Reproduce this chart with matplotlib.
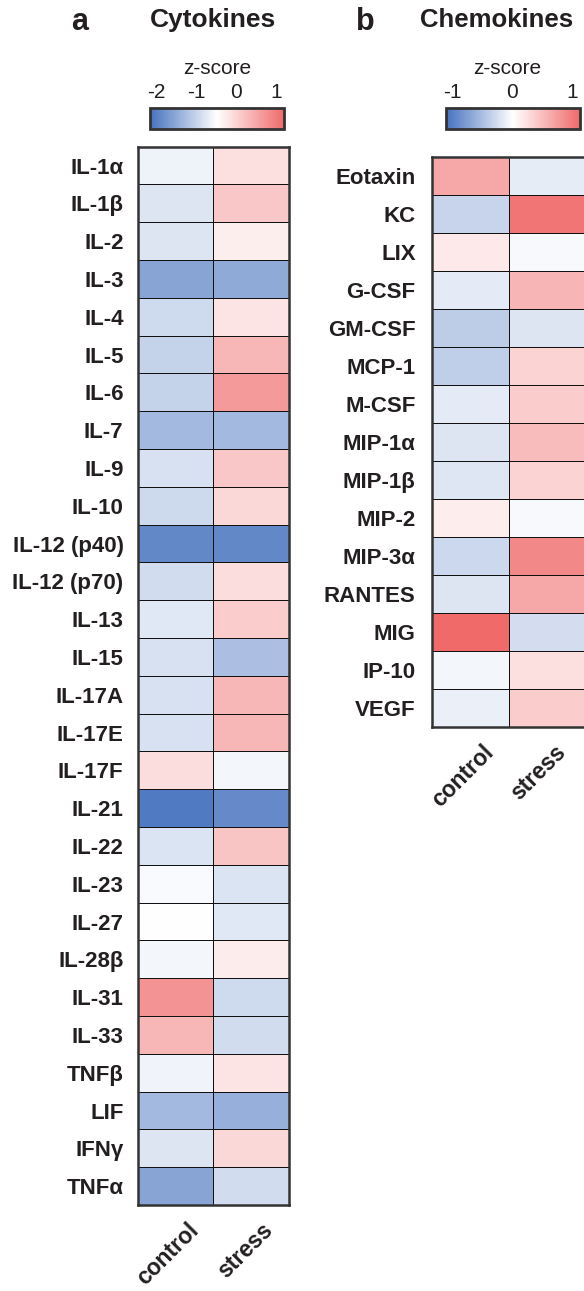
import matplotlib
matplotlib.use("Agg")
import matplotlib.pyplot as plt
import numpy as np
from matplotlib.colors import LinearSegmentedColormap, Normalize
from matplotlib.colorbar import ColorbarBase

plt.rcParams["font.family"] = ["Liberation Sans", "DejaVu Sans"]

W, H = 584, 1291
TEXT = "#231f20"

groups = ["control", "stress"]

cytokines = ["IL-1α", "IL-1β", "IL-2", "IL-3", "IL-4", "IL-5", "IL-6", "IL-7",
             "IL-9", "IL-10", "IL-12 (p40)", "IL-12 (p70)", "IL-13", "IL-15",
             "IL-17A", "IL-17E", "IL-17F", "IL-21", "IL-22", "IL-23", "IL-27",
             "IL-28β", "IL-31", "IL-33", "TNFβ", "LIF", "IFNγ", "TNFα"]
cyto_control = [-0.63, -0.78, -0.78, -1.56, -0.91, -1.00, -1.00, -1.31,
                -0.84, -0.93, -1.88, -0.89, -0.74, -0.84, -0.84, -0.84,
                -0.09, -2.05, -0.79, -0.54, -0.47, -0.58, 0.73, 0.33,
                -0.61, -1.31, -0.78, -1.56]
cyto_stress = [-0.12, 0.15, -0.29, -1.48, -0.17, 0.33, 0.66, -1.31,
               0.15, -0.04, -1.88, -0.09, 0.10, -1.23, 0.33, 0.33,
               -0.58, -1.85, 0.19, -0.79, -0.74, -0.26, -0.91, -0.89,
               -0.17, -1.41, -0.04, -0.89]
cyto_ticks = [-2, -1, 0, 1]

chemokines = ["Eotaxin", "KC", "LIX", "G-CSF", "GM-CSF", "MCP-1", "M-CSF",
              "MIP-1α", "MIP-1β", "MIP-2", "MIP-3α", "RANTES", "MIG",
              "IP-10", "VEGF"]
chemo_control = [0.66, -0.32, 0.18, -0.15, -0.38, -0.36, -0.15, -0.19,
                 -0.18, 0.15, -0.29, -0.19, 1.13, -0.06, -0.10]
chemo_stress = [-0.14, 1.05, -0.03, 0.57, -0.19, 0.34, 0.39, 0.52,
                0.34, -0.03, 0.90, 0.66, -0.25, 0.25, 0.39]
chemo_ticks = [-1, 0, 1]

cmap = LinearSegmentedColormap.from_list(
    "blue_white_red", ["#4672BE", "#FFFFFF", "#F06A6A"])

fig = plt.figure(figsize=(W / 100, H / 100), dpi=100)


def px_axes(x0, y0, x1, y1):
    """Add axes from pixel box (origin top-left)."""
    return fig.add_axes([x0 / W, 1 - y1 / H, (x1 - x0) / W, (y1 - y0) / H])


def heatmap(box, labels, control, stress, norm, label_pad, col_offsets, label_drop):
    ax = px_axes(*box)
    data = np.column_stack([control, stress])
    n = len(labels)
    ax.pcolormesh(np.arange(3), np.arange(n + 1), data, cmap=cmap, norm=norm,
                  edgecolors="#111111", linewidth=0.65)
    ax.set_xlim(0, 2)
    ax.set_ylim(n, 0)
    ax.set_xticks([])
    ax.set_yticks(np.arange(n) + 0.5)
    ax.set_yticklabels(labels, fontsize=16, fontweight="bold", color=TEXT)
    ax.tick_params(axis="y", length=0, pad=label_pad)
    for sp in ax.spines.values():
        sp.set_linewidth(1.8)
        sp.set_color("#333333")
    # rotated group names under each column
    x0, y0, x1, y1 = box
    colw = (x1 - x0) / 2
    for i, g in enumerate(groups):
        cx = x0 + colw * (i + 0.5) + col_offsets[i]
        cy = y1 + label_drop
        fig.text(cx / W, 1 - cy / H, g, rotation=45, rotation_mode="anchor",
                 ha="right", va="center", fontsize=16.5, fontweight="bold",
                 color=TEXT)
    return ax


def scale_bar(box, norm, ticks, label_x):
    cax = px_axes(*box)
    cb = ColorbarBase(cax, cmap=cmap, norm=norm, orientation="horizontal")
    cb.set_ticks([])
    cb.outline.set_linewidth(2.0)
    cb.outline.set_edgecolor("#333333")
    x0, y0, x1, y1 = box
    span = norm.vmax - norm.vmin
    for t in ticks:
        tx = x0 + (t - norm.vmin) / span * (x1 - x0)
        fig.text(tx / W, 1 - 93 / H, str(t), ha="center",
                 va="center", fontsize=15, color=TEXT)
    fig.text(label_x / W, 1 - 68 / H, "z-score", ha="center", va="center",
             fontsize=15, color=TEXT)


cyto_norm = Normalize(vmin=-2.15, vmax=1.2)
chemo_norm = Normalize(vmin=-1.1, vmax=1.13)

heatmap((137.5, 146.7, 289, 1205), cytokines, cyto_control, cyto_stress,
        cyto_norm, 10, [20, 18], 22)
heatmap((432.3, 157, 585, 727), chemokines, chemo_control, chemo_stress,
        chemo_norm, 12, [20, 16], 22)

scale_bar((150, 108, 284, 129), cyto_norm, cyto_ticks, 217)
scale_bar((446, 108, 580, 129), chemo_norm, chemo_ticks, 507)

fig.text(213 / W, 1 - 20 / H, "Cytokines", ha="center", va="center",
         fontsize=19, fontweight="bold", color=TEXT)
fig.text(80 / W, 1 - 22 / H, "a", ha="center", va="center",
         fontsize=22, fontweight="bold", color=TEXT)
fig.text(497 / W, 1 - 20 / H, "Chemokines", ha="center", va="center",
         fontsize=18.5, fontweight="bold", color=TEXT)
fig.text(365 / W, 1 - 22 / H, "b", ha="center", va="center",
         fontsize=22, fontweight="bold", color=TEXT)

fig.savefig("out.png", dpi=100)
